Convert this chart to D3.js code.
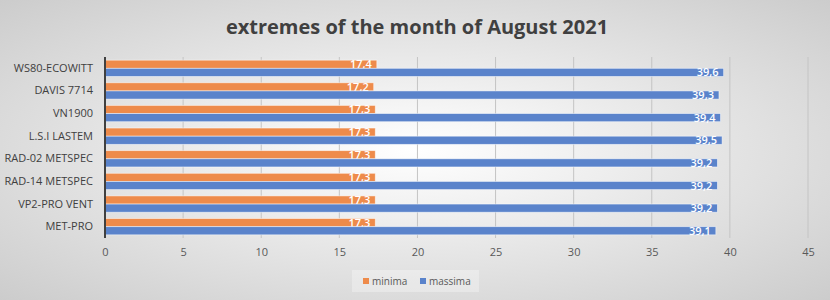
<!DOCTYPE html>
<html>
<head>
<meta charset="utf-8">
<script src="https://cdn.jsdelivr.net/npm/d3@7"></script>
<style>
  body { margin: 0; }
  #chart { width: 830px; height: 300px; }
</style>
</head>
<body>
<div id="chart"></div>
<script>
const stations = ['WS80-ECOWITT', 'DAVIS 7714', 'VN1900', 'L.S.I LASTEM', 'RAD-02 METSPEC', 'RAD-14 METSPEC', 'VP2-PRO VENT', 'MET-PRO']
const minima = [17.4, 17.2, 17.3, 17.3, 17.3, 17.3, 17.3, 17.3]
const massima = [39.6, 39.3, 39.4, 39.5, 39.2, 39.2, 39.2, 39.1]
const xTicks = [0, 5, 10, 15, 20, 25, 30, 35, 40, 45]
const seriesNames = ['minima', 'massima']
const seriesColors = ['#EE8B4B', '#5A83CB']

const width = 830
const height = 300
const margin = { top: 57, right: 22, bottom: 62, left: 105 }
const font = '"Open Sans", "Noto Sans", sans-serif'

const svg = d3.select('#chart')
  .append('svg')
  .attr('width', width)
  .attr('height', height)

// background
const defs = svg.append('defs')
const grad = defs.append('radialGradient')
  .attr('id', 'bg')
  .attr('cx', '50%').attr('cy', '50%').attr('r', '75%')
grad.append('stop').attr('offset', '0%').attr('stop-color', '#ffffff')
grad.append('stop').attr('offset', '100%').attr('stop-color', '#c9c9c9')

svg.append('rect')
  .attr('width', width)
  .attr('height', height)
  .attr('fill', 'url(#bg)')

svg.append('text')
  .attr('x', 417)
  .attr('y', 34)
  .attr('text-anchor', 'middle')
  .attr('font-family', font)
  .attr('font-weight', 'bold')
  .attr('font-size', 20)
  .attr('fill', '#404040')
  .text('extremes of the month of August 2021')

const x = d3.scaleLinear()
  .domain([0, 45])
  .range([margin.left, width - margin.right])

const y = d3.scaleBand()
  .domain(stations)
  .range([margin.top, height - margin.bottom])
  .paddingInner(0.28)
  .paddingOuter(0.14)

const inner = d3.scaleBand()
  .domain(seriesNames)
  .range([0, y.bandwidth()])

// gridlines
svg.append('g')
  .selectAll('line')
  .data(xTicks.slice(1))
  .join('line')
  .attr('x1', d => x(d))
  .attr('x2', d => x(d))
  .attr('y1', margin.top)
  .attr('y2', height - margin.bottom)
  .attr('stroke', '#c4c4c4')
  .attr('stroke-width', 1)

// x axis labels
const xAxis = svg.append('g')
  .attr('transform', `translate(0,${height - margin.bottom})`)
  .call(d3.axisBottom(x).tickValues(xTicks).tickSize(0).tickPadding(10))
xAxis.select('.domain').remove()
xAxis.selectAll('text')
  .attr('font-family', font)
  .attr('font-size', 11)
  .attr('fill', '#595959')

// y axis labels
const yAxis = svg.append('g')
  .attr('transform', `translate(${margin.left},0)`)
  .call(d3.axisLeft(y).tickSize(0).tickPadding(12))
yAxis.select('.domain').remove()
yAxis.selectAll('text')
  .attr('font-family', font)
  .attr('font-size', 11)
  .attr('fill', '#404040')

const series = [minima, massima]
const fmt = v => d3.format('.1f')(v).replace('.', ',')

series.forEach((values, s) => {
  const g = svg.append('g')
  g.selectAll('rect')
    .data(values)
    .join('rect')
    .attr('x', x(0))
    .attr('y', (d, i) => y(stations[i]) + inner(seriesNames[s]))
    .attr('width', d => x(d) - x(0))
    .attr('height', inner.bandwidth())
    .attr('fill', seriesColors[s])
    .attr('stroke', 'rgba(255,255,255,0.6)')
    .attr('stroke-width', 0.8)

  g.selectAll('text')
    .data(values)
    .join('text')
    .attr('x', d => x(d) - 5)
    .attr('y', (d, i) => y(stations[i]) + inner(seriesNames[s]) + inner.bandwidth() / 2 + 4)
    .attr('text-anchor', 'end')
    .attr('font-family', font)
    .attr('font-size', 11)
    .attr('font-weight', 600)
    .attr('fill', '#ffffff')
    .text(d => fmt(d))
})

// vertical axis line
svg.append('line')
  .attr('x1', x(0))
  .attr('x2', x(0))
  .attr('y1', margin.top)
  .attr('y2', height - margin.bottom)
  .attr('stroke', '#404040')
  .attr('stroke-width', 2)

// legend
const legend = svg.append('g')
legend.append('rect')
  .attr('x', 352)
  .attr('y', 270)
  .attr('width', 127)
  .attr('height', 22)
  .attr('fill', 'rgba(255,255,255,0.3)')
const legendX = [363, 420]
seriesNames.forEach((name, i) => {
  legend.append('rect')
    .attr('x', legendX[i])
    .attr('y', 278)
    .attr('width', 6)
    .attr('height', 6)
    .attr('fill', seriesColors[i])
  legend.append('text')
    .attr('x', legendX[i] + 9)
    .attr('y', 285)
    .attr('font-family', font)
    .attr('font-size', 10)
    .attr('fill', '#595959')
    .text(name)
})
</script>
</body>
</html>
